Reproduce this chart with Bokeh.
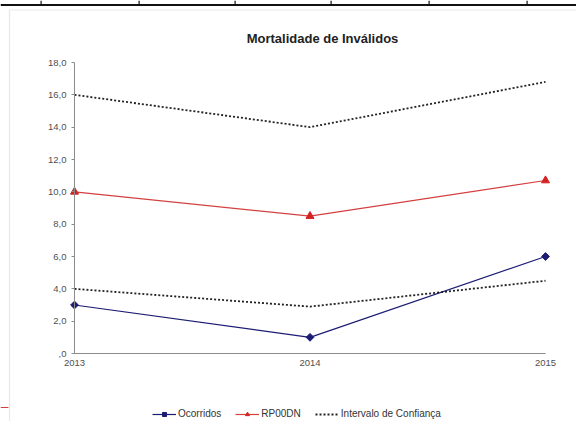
import math
from bokeh.plotting import figure
from bokeh.models import (FixedTicker, Legend, LegendItem, Range1d, Label, BoxAnnotation)
from bokeh.embed import file_html
from bokeh.resources import INLINE

# Data
years = [2013, 2014, 2015]
ocorridos = [3.0, 1.0, 6.0]
rp00dn = [10.0, 8.5, 10.7]
ic_superior = [16.0, 14.0, 16.8]
ic_inferior = [4.0, 2.9, 4.5]
y_ticks = [0, 2, 4, 6, 8, 10, 12, 14, 16, 18]
y_tick_labels = [",0", "2,0", "4,0", "6,0", "8,0", "10,0", "12,0", "14,0", "16,0", "18,0"]

FONT = "Liberation Sans"
W, H = 576, 421

# Plot box inside the page (pixels): left, right, top, bottom
PX_L, PX_R, PX_T, PX_B = 74, 545, 62, 353
x_lo, x_hi = years[0], years[-1]
y_lo, y_hi = y_ticks[0], y_ticks[-1]
kx = (PX_R - PX_L) / (x_hi - x_lo)
ky = (PX_B - PX_T) / (y_hi - y_lo)

# The frame fills the whole page; the axes are pinned at the data origin
p = figure(width=W, height=H, output_backend="svg", toolbar_location=None,
           x_range=Range1d(x_lo - PX_L / kx, x_hi + (W - PX_R) / kx),
           y_range=Range1d(y_lo - (H - PX_B) / ky, y_hi + PX_T / ky),
           min_border=0)
p.title.visible = False
p.outline_line_color = None
p.grid.grid_line_color = None
p.background_fill_color = "white"
p.border_fill_color = "white"

# Axes
p.xaxis.fixed_location = y_lo
p.xaxis.bounds = (x_lo, x_hi)
p.yaxis.fixed_location = x_lo
p.yaxis.bounds = (y_lo, y_hi)
p.xaxis.ticker = FixedTicker(ticks=years)
p.xaxis.major_label_overrides = {y: str(y) for y in years}
p.yaxis.ticker = FixedTicker(ticks=y_ticks)
p.yaxis.major_label_overrides = dict(zip(y_ticks, y_tick_labels))
for ax in (p.xaxis[0], p.yaxis[0]):
    ax.axis_line_color = "#8c8c8c"
    ax.major_tick_line_color = "#8c8c8c"
    ax.minor_tick_line_color = None
    ax.major_label_text_font = FONT
    ax.major_label_text_font_size = "9.5px"
    ax.major_label_text_color = "#505050"
p.xaxis.major_tick_in = 0
p.xaxis.major_tick_out = 0
p.xaxis.major_label_standoff = 6
p.yaxis.major_tick_in = 0
p.yaxis.major_tick_out = 3
p.yaxis.major_label_standoff = 5

# Series
r_oc_l = p.line(years, ocorridos, line_color="#1c1c74", line_width=1.2)
r_oc_m = p.scatter(years, ocorridos, marker="square", angle=math.pi / 4, size=5.5,
                   fill_color="#1c1c74", line_color="#1c1c74")
r_rp_l = p.line(years, rp00dn, line_color="#d44040", line_width=1.2)
r_rp_m = p.scatter(years, rp00dn, marker="triangle", size=8, fill_color="#d42222",
                   line_color="#d42222")
r_ic_s = p.line(years, ic_superior, line_color="#222222", line_width=1.8, line_dash="2 2")
r_ic_i = p.line(years, ic_inferior, line_color="#222222", line_width=1.8, line_dash="2 2")

# Title
p.add_layout(Label(x=322, y=H - 38, x_units="screen", y_units="screen",
                   text="Mortalidade de Inválidos", text_font=FONT,
                   text_font_size="13px", text_font_style="bold",
                   text_color="#222222", text_align="center", text_baseline="middle"))

# Legend along the bottom of the chart
legend = Legend(items=[
    LegendItem(label="Ocorridos", renderers=[r_oc_l, r_oc_m]),
    LegendItem(label="RP00DN", renderers=[r_rp_l, r_rp_m]),
    LegendItem(label="Intervalo de Confiança", renderers=[r_ic_s]),
], orientation="horizontal", location=(152, 2))
legend.border_line_color = None
legend.background_fill_alpha = 0
legend.label_text_font = FONT
legend.label_text_font_size = "10px"
legend.label_text_color = "#333333"
legend.glyph_width = 24
legend.glyph_height = 10
legend.label_height = 10
legend.label_standoff = 2
legend.spacing = 14
legend.padding = 0
legend.margin = 0
p.add_layout(legend, "center")

# Page furniture: table rule at the top and the chart's outer border
def screen_box(l, r, t, b, **kw):
    return BoxAnnotation(left=l, right=r, top=H - t, bottom=H - b,
                         left_units="screen", right_units="screen",
                         top_units="screen", bottom_units="screen", **kw)

p.add_layout(screen_box(0, W, 3.5, 5.5, fill_color="#111111", fill_alpha=1, line_color=None))
for xv in [40, 138, 234, 330, 428, 526]:
    p.add_layout(screen_box(xv, xv + 1.2, 0, 5, fill_color="#111111", fill_alpha=1,
                            line_color=None))
p.add_layout(screen_box(9, W + 10, 9.5, H + 10, fill_alpha=0, line_color="#b4b4b4",
                        line_width=1.2))
p.add_layout(screen_box(0, 8, 406.5, 407.5, fill_color="#d04040", fill_alpha=1,
                        line_color=None))

open("out.html", "w").write(file_html(p, INLINE))
